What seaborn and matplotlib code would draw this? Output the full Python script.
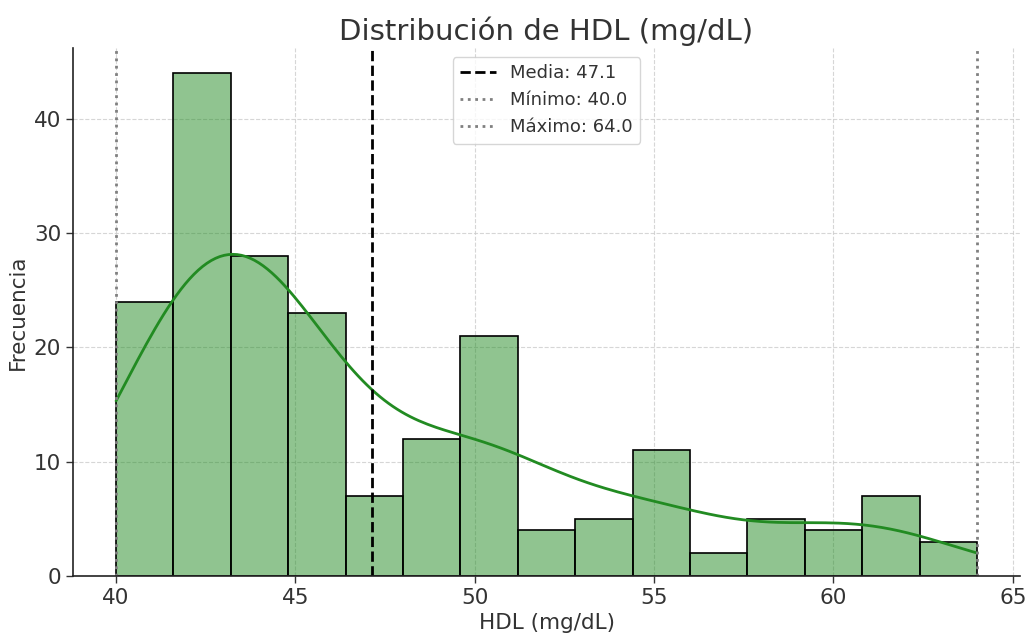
import numpy as np
import pandas as pd
import matplotlib
matplotlib.use("Agg")
import matplotlib.pyplot as plt
import seaborn as sns

# HDL values (mg/dL) and their frequencies
hdl_values = [40, 41, 42, 43, 44, 45, 46, 47, 48, 49, 50, 51, 52,
              53, 54, 55, 56, 57, 58, 59, 60, 61, 62, 63, 64]
hdl_counts = [12, 12, 23, 21, 28, 13, 10, 7, 7, 5, 13, 8, 4,
              4, 1, 11, 1, 1, 4, 1, 4, 5, 2, 2, 1]

raw = np.repeat(np.array(hdl_values, dtype=float), hdl_counts)
df = pd.DataFrame({"HDL": raw})
mean_v = raw.mean()
min_v = raw.min()
max_v = raw.max()

sns.set_style("white")
plt.rcParams["font.family"] = ["DejaVu Sans"]

fig, ax = plt.subplots(figsize=(10.27, 6.33), dpi=100)
fig.subplots_adjust(left=0.0711, right=0.9932, top=0.9242, bottom=0.0900)

sns.histplot(data=df, x="HDL", bins=15, kde=True,
             color="forestgreen", edgecolor="black", linewidth=1.2,
             alpha=0.5, ax=ax, line_kws={"linewidth": 2})

ax.axvline(mean_v, color="black", linestyle="--", linewidth=2,
           label=f"Media: {mean_v:.1f}")
ax.axvline(min_v, color="gray", linestyle=":", linewidth=2,
           label=f"Mínimo: {min_v:.1f}")
ax.axvline(max_v, color="gray", linestyle=":", linewidth=2,
           label=f"Máximo: {max_v:.1f}")

ax.set_title("Distribución de HDL (mg/dL)", fontsize=21, color="#333333")
ax.set_xlabel("HDL (mg/dL)", fontsize=15.5, color="#333333")
ax.set_ylabel("Frecuencia", fontsize=15.5, color="#333333")
ax.tick_params(axis="both", labelsize=15.5, colors="#333333", length=5, width=1,
               left=True, bottom=True)
ax.grid(True, linestyle="--", color="#cccccc", alpha=0.8, linewidth=0.8)
ax.set_axisbelow(True)
for s in ["top", "right"]:
    ax.spines[s].set_visible(False)
for s in ["left", "bottom"]:
    ax.spines[s].set_color("#222222")
    ax.spines[s].set_linewidth(1.2)

leg = ax.legend(loc="upper center", fontsize=13, frameon=True)
for t in leg.get_texts():
    t.set_color("#333333")

fig.savefig("out.png", dpi=100)
